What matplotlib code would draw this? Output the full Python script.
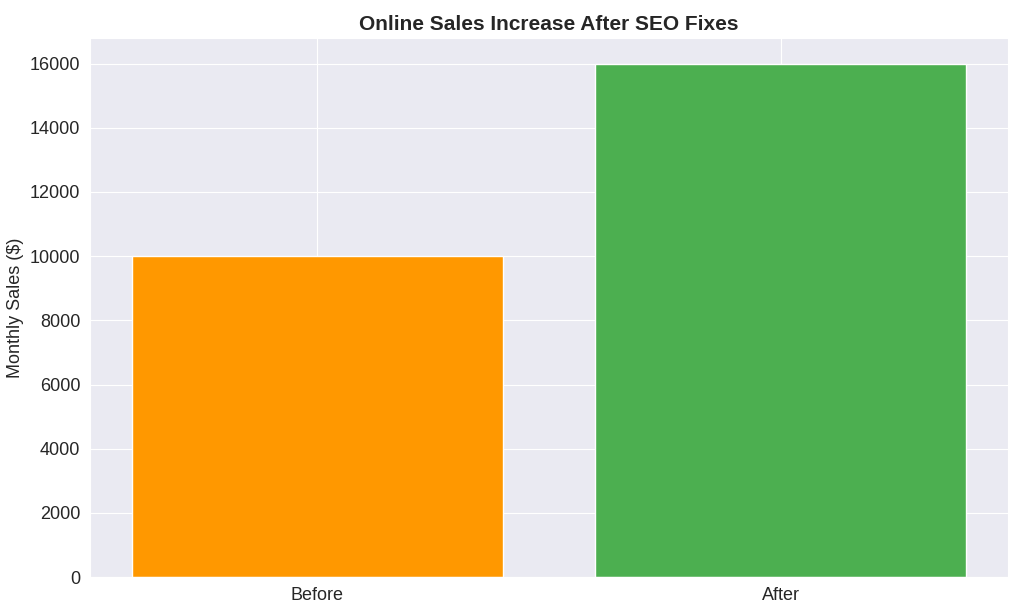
import matplotlib
matplotlib.use("Agg")
import matplotlib.pyplot as plt
import seaborn as sns

categories = ["Before", "After"]
sales = [10000, 16000]
colors = ["#FF9800", "#4CAF50"]

sns.set_style("darkgrid")
plt.rcParams['font.family'] = ['Liberation Sans', 'DejaVu Sans']

fig = plt.figure(figsize=(10.24, 6.14), dpi=100)
ax = fig.add_axes([90/1024, 1-577/614, (1008-90)/1024, (577-38)/614])
ax.bar(categories, sales, color=colors, width=0.8)
ax.set_title("Online Sales Increase After SEO Fixes", fontsize=15, fontweight="bold", color="#262626")
ax.set_ylabel("Monthly Sales ($)", fontsize=13, color="#262626")
ax.tick_params(labelsize=13, colors="#262626")
ax.set_ylim(0, 16800)
ax.set_yticks(range(0, 16001, 2000))
fig.savefig("out.png", dpi=100)
